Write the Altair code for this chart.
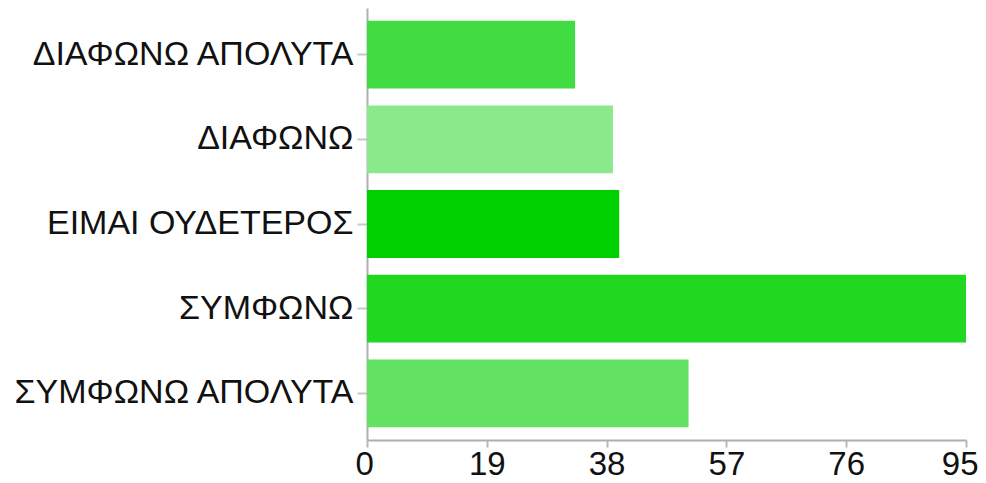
import altair as alt
import pandas as pd

categories = ["ΔΙΑΦΩΝΩ ΑΠΟΛΥΤΑ", "ΔΙΑΦΩΝΩ", "ΕΙΜΑΙ ΟΥΔΕΤΕΡΟΣ", "ΣΥΜΦΩΝΩ", "ΣΥΜΦΩΝΩ ΑΠΟΛΥΤΑ"]
values = [33, 39, 40, 95, 51]
colors = ["#41dc41", "#8be88b", "#00d000", "#20d820", "#64e264"]
x_ticks = [0, 19, 38, 57, 76, 95]

df = pd.DataFrame({"cat": categories, "val": values, "color": colors})

chart = alt.Chart(df).mark_bar().encode(
    y=alt.Y("cat:N", sort=categories, title=None,
            scale=alt.Scale(paddingInner=0.2, paddingOuter=0.15),
            axis=alt.Axis(labelFont="Liberation Sans", labelFontSize=34, labelColor="#111111",
                          labelPadding=4, tickSize=10, tickColor="#c8c8c8", tickWidth=2,
                          domainColor="#b0b0b0", domainWidth=2, labelLimit=500)),
    x=alt.X("val:Q", title=None,
            scale=alt.Scale(domain=[0, 95], nice=False),
            axis=alt.Axis(values=x_ticks, grid=False, labelFont="Liberation Sans", labelFontSize=33,
                          labelColor="#111111", labelPadding=1, tickSize=7, tickColor="#b8b8b8",
                          tickWidth=2, domainColor="#b0b0b0", domainWidth=2,
                          labelFlush=True, labelFlushOffset=12)),
    color=alt.Color("color:N", scale=None),
).properties(
    width=599, height=432,
    autosize=alt.AutoSizeParams(type="none"),
    padding={"left": 359, "top": 0, "right": 12, "bottom": 50},
).configure_view(stroke=None)

chart.save("out.html", embed_options={"renderer": "svg", "actions": False})
